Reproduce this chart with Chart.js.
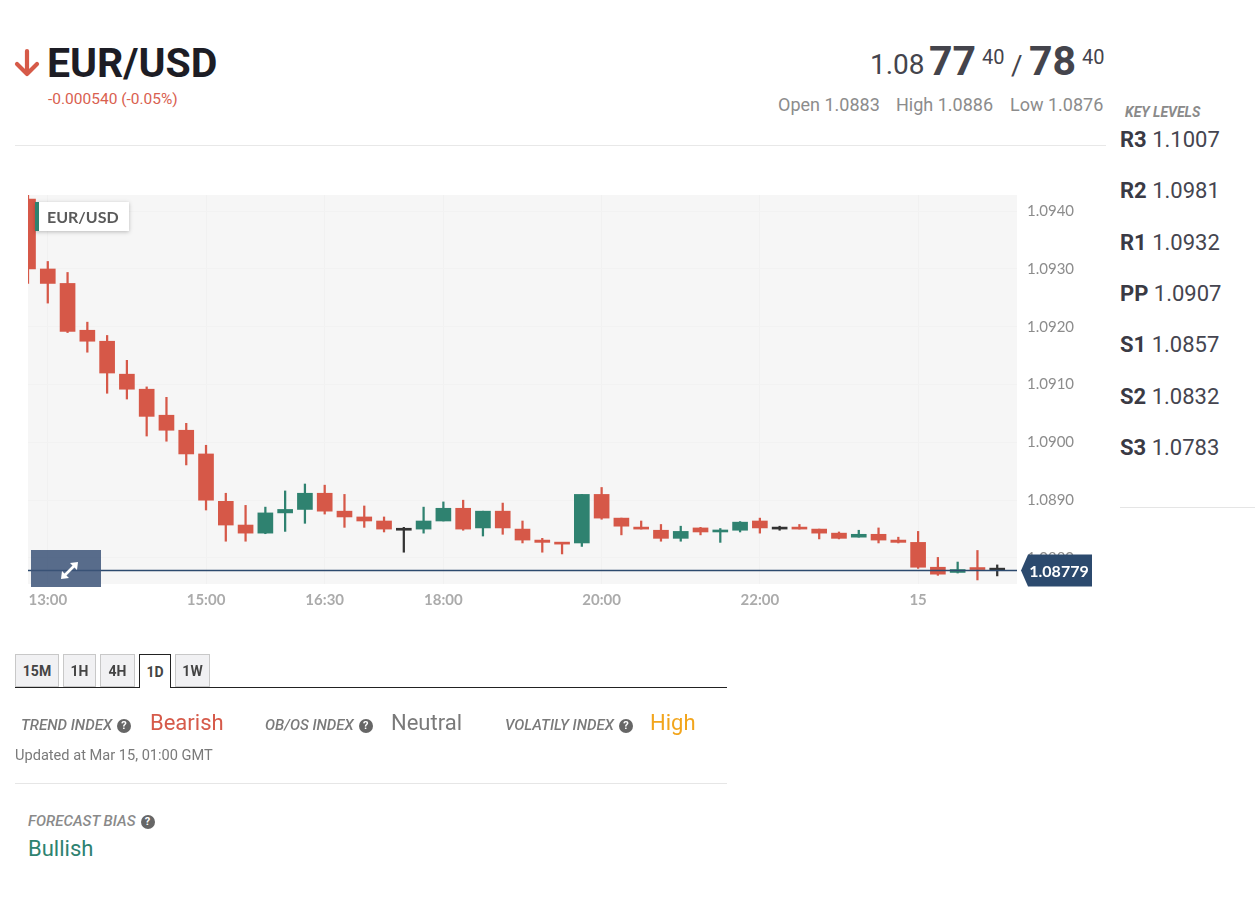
<!DOCTYPE html>
<html lang="en">
<head>
<meta charset="utf-8">
<title>EUR/USD</title>
<script src="https://cdn.jsdelivr.net/npm/chart.js@4.4.1/dist/chart.umd.min.js"></script>
<style>
  body { margin: 0; width: 1255px; height: 897px; background: #fff; font-family: Roboto, "Noto Sans", sans-serif; position: relative; overflow: hidden; }
  .abs { position: absolute; line-height: 1; white-space: nowrap; }
  .etiqueta { font-style: italic; font-weight: 500; font-size: 15px; color: #7a7a7a; }
  .q { display: inline-block; width: 14px; height: 14px; border-radius: 50%; background: #666; color: #fff; font-size: 11px; font-weight: 700; font-style: normal; text-align: center; line-height: 14px; vertical-align: 1px; margin-left: 5px; }
  .nivel { font-size: 22px; color: #45454f; }
  .nivel b { color: #3a3a44; }
  .tab { position: absolute; top: 654px; height: 33px; box-sizing: border-box; border: 1px solid #c8c8c8; background: #f1f1f3; font-weight: 700; font-size: 14px; color: #444; display: flex; align-items: center; justify-content: center; }
  .tab.activa { height: 34px; border: 1px solid #222; border-bottom: none; background: #fff; z-index: 2; }
</style>
</head>
<body>

<!-- cabecera -->
<svg class="abs" style="left:14px;top:48px" width="28" height="30" viewBox="0 0 28 30">
  <path d="M13 3 L13 26 M3 16 L13 26 L23 16" stroke="#d65a48" stroke-width="4.2" fill="none" stroke-linecap="round" stroke-linejoin="round"/>
</svg>
<div class="abs" style="left:47px;top:43px;font-size:41px;font-weight:700;color:#1d1d25">EUR/USD</div>
<div class="abs" style="left:48px;top:92px;font-size:15.5px;color:#d9604f">-0.000540 (-0.05%)</div>

<div class="abs" style="left:870px;top:51px;font-size:28px;color:#44444c">1.08</div>
<div class="abs" style="left:929px;top:41px;font-size:41px;font-weight:700;color:#44444c">77</div>
<div class="abs" style="left:982px;top:47px;font-size:20px;color:#44444c">40</div>
<div class="abs" style="left:1011px;top:52px;font-size:28px;color:#44444c">/</div>
<div class="abs" style="left:1029px;top:41px;font-size:41px;font-weight:700;color:#44444c">78</div>
<div class="abs" style="left:1082px;top:47px;font-size:20px;color:#44444c">40</div>

<div class="abs" style="left:778px;top:96px;font-size:18px;color:#8c8c8c">Open 1.0883</div>
<div class="abs" style="left:896px;top:96px;font-size:18px;color:#8c8c8c">High 1.0886</div>
<div class="abs" style="left:1010px;top:96px;font-size:18px;color:#8c8c8c">Low 1.0876</div>

<div class="abs" style="left:15px;top:145px;width:1091px;height:1px;background:#e8e8e8"></div>

<!-- niveles clave -->
<div class="abs" style="left:1125px;top:105px;font-size:14px;font-weight:700;font-style:italic;color:#8a8a8a">KEY LEVELS</div>
<div class="abs nivel" style="left:1120px;top:129px"><b>R3</b> 1.1007</div>
<div class="abs nivel" style="left:1120px;top:180px"><b>R2</b> 1.0981</div>
<div class="abs nivel" style="left:1120px;top:232px"><b>R1</b> 1.0932</div>
<div class="abs nivel" style="left:1120px;top:283px"><b>PP</b> 1.0907</div>
<div class="abs nivel" style="left:1120px;top:334px"><b>S1</b> 1.0857</div>
<div class="abs nivel" style="left:1120px;top:386px"><b>S2</b> 1.0832</div>
<div class="abs nivel" style="left:1120px;top:437px"><b>S3</b> 1.0783</div>
<div class="abs" style="left:1120px;top:507px;width:135px;height:1px;background:#e5e5e5"></div>

<!-- grafico -->
<div style="position:absolute;left:0;top:185px;width:1110px;height:430px">
  <canvas id="graficoVelas" width="1110" height="430"></canvas>
</div>
<div class="abs" style="left:35px;top:202px;width:94px;height:29px;background:#fff;box-shadow:0 1px 4px rgba(0,0,0,0.25);border-left:4px solid #2e8270;box-sizing:border-box;font-family:Lato, sans-serif;font-weight:700;font-size:16px;color:#5a5a5a;display:flex;align-items:center;padding-left:8px">EUR/USD</div>
<div class="abs" style="left:31px;top:550px;width:70px;height:37px;background:rgba(60,84,120,0.85)">
  <svg width="70" height="37" viewBox="0 0 70 37">
    <path d="M34 25 L43 16" stroke="#fff" stroke-width="2.6" fill="none"/>
    <path d="M47 12 L39 13 L46 20 Z M30 29 L31 21 L38 28 Z" fill="#fff"/>
  </svg>
</div>

<!-- pestañas -->
<div class="tab" style="left:15px;width:44px">15M</div>
<div class="tab" style="left:63px;width:33px">1H</div>
<div class="tab" style="left:100px;width:35px">4H</div>
<div class="tab activa" style="left:139px;width:32px">1D</div>
<div class="tab" style="left:175px;width:35px">1W</div>
<div class="abs" style="left:15px;top:687px;width:712px;height:1px;background:#222"></div>

<!-- indices -->
<div class="abs etiqueta" style="left:21px;top:718px">TREND INDEX<span class="q">?</span></div>
<div class="abs" style="left:150px;top:712px;font-size:22px;color:#d65a4a">Bearish</div>
<div class="abs etiqueta" style="left:265px;top:718px">OB/OS INDEX<span class="q">?</span></div>
<div class="abs" style="left:391px;top:712px;font-size:22px;color:#7a7a7a">Neutral</div>
<div class="abs etiqueta" style="left:505px;top:718px">VOLATILY INDEX<span class="q">?</span></div>
<div class="abs" style="left:650px;top:712px;font-size:22px;color:#f2a51c">High</div>
<div class="abs" style="left:15px;top:748px;font-size:14.6px;color:#7a7a7a">Updated at Mar 15, 01:00 GMT</div>
<div class="abs" style="left:15px;top:783px;width:712px;height:1px;background:#e6e6e6"></div>
<div class="abs etiqueta" style="left:28px;top:814px;color:#8a8a8a">FORECAST BIAS<span class="q">?</span></div>
<div class="abs" style="left:28px;top:838px;font-size:22px;color:#2e8270">Bullish</div>

<script>
// velas de 15 minutos, la ultima casilla queda vacia
const horas = [
  "12:45", "13:00", "13:15", "13:30", "13:45", "14:00", "14:15", "14:30", "14:45",
  "15:00", "15:15", "15:30", "15:45", "16:00", "16:15", "16:30", "16:45",
  "17:00", "17:15", "17:30", "17:45", "18:00", "18:15", "18:30", "18:45",
  "19:00", "19:15", "19:30", "19:45", "20:00", "20:15", "20:30", "20:45",
  "21:00", "21:15", "21:30", "21:45", "22:00", "22:15", "22:30", "22:45",
  "23:00", "23:15", "23:30", "23:45", "00:00", "00:15", "00:30", "00:45",
  "01:00", "01:15"
];
const etiquetasEjeX = ["13:00", "15:00", "16:30", "18:00", "20:00", "22:00", "00:00"];
const etiquetasEjeY = [1.0880, 1.0890, 1.0900, 1.0910, 1.0920, 1.0930, 1.0940];

const aperturas = [
  1.09421, 1.09300, 1.09275, 1.09194, 1.09175, 1.09118, 1.09092, 1.09047, 1.09021, 1.08980,
  1.08898, 1.08857, 1.08843, 1.08878, 1.08884, 1.08912, 1.08881, 1.08871, 1.08864, 1.08848,
  1.08850, 1.08864, 1.08886, 1.08852, 1.08881, 1.08850, 1.08831, 1.08827, 1.08826, 1.08910,
  1.08869, 1.08853, 1.08848, 1.08834, 1.08852, 1.08845, 1.08848, 1.08864, 1.08850, 1.08852,
  1.08850, 1.08843, 1.08836, 1.08841, 1.08831, 1.08827, 1.08784, 1.08775, 1.08782, 1.08779
];
const maximos = [
  1.09430, 1.09313, 1.09294, 1.09208, 1.09185, 1.09142, 1.09096, 1.09078, 1.09033, 1.08995,
  1.08912, 1.08891, 1.08888, 1.08916, 1.08928, 1.08926, 1.08910, 1.08890, 1.08871, 1.08853,
  1.08888, 1.08897, 1.08900, 1.08881, 1.08895, 1.08864, 1.08834, 1.08827, 1.08910, 1.08922,
  1.08869, 1.08864, 1.08858, 1.08855, 1.08853, 1.08851, 1.08863, 1.08869, 1.08855, 1.08858,
  1.08850, 1.08845, 1.08848, 1.08852, 1.08836, 1.08846, 1.08801, 1.08793, 1.08813, 1.08788
];
const minimos = [
  1.09275, 1.09241, 1.09190, 1.09156, 1.09085, 1.09075, 1.09011, 1.09002, 1.08961, 1.08883,
  1.08829, 1.08829, 1.08842, 1.08846, 1.08860, 1.08876, 1.08853, 1.08853, 1.08845, 1.08810,
  1.08843, 1.08864, 1.08848, 1.08838, 1.08841, 1.08826, 1.08810, 1.08807, 1.08820, 1.08867,
  1.08840, 1.08850, 1.08829, 1.08829, 1.08840, 1.08827, 1.08845, 1.08843, 1.08848, 1.08850,
  1.08833, 1.08833, 1.08836, 1.08826, 1.08826, 1.08782, 1.08770, 1.08774, 1.08762, 1.08769
];
const cierres = [
  1.09300, 1.09275, 1.09192, 1.09175, 1.09120, 1.09092, 1.09045, 1.09021, 1.08980, 1.08900,
  1.08857, 1.08843, 1.08878, 1.08884, 1.08912, 1.08881, 1.08871, 1.08864, 1.08850, 1.08848,
  1.08864, 1.08886, 1.08850, 1.08881, 1.08852, 1.08831, 1.08827, 1.08824, 1.08910, 1.08869,
  1.08855, 1.08850, 1.08834, 1.08846, 1.08845, 1.08848, 1.08862, 1.08852, 1.08850, 1.08850,
  1.08843, 1.08834, 1.08841, 1.08831, 1.08827, 1.08784, 1.08772, 1.08780, 1.08780, 1.08779
];

const ROJO = "#d65848";
const VERDE = "#2f8270";
const NEGRO = "#333333";
const AZUL = "#2c4a6e";

function colorVela(i) {
  if (cierres[i] > aperturas[i]) return VERDE;
  if (cierres[i] < aperturas[i]) return ROJO;
  return NEGRO;
}

// fondo gris, linea del precio actual y su etiqueta
const pluginPrecio = {
  id: "precioActual",
  beforeDraw(chart) {
    const { ctx, chartArea } = chart;
    ctx.save();
    ctx.fillStyle = "#f6f6f6";
    ctx.fillRect(chartArea.left, chartArea.top, chartArea.right - chartArea.left, chartArea.bottom - chartArea.top);
    ctx.restore();
  },
  afterDraw(chart) {
    const { ctx, chartArea } = chart;
    const ultimo = cierres[cierres.length - 1];
    const y = Math.round(chart.scales.y.getPixelForValue(ultimo)) + 0.5;
    const x = chartArea.right;
    ctx.save();
    ctx.strokeStyle = AZUL;
    ctx.lineWidth = 1.5;
    ctx.beginPath();
    ctx.moveTo(chartArea.left, y);
    ctx.lineTo(x, y);
    ctx.stroke();

    ctx.fillStyle = AZUL;
    ctx.beginPath();
    ctx.moveTo(x + 4, y);
    ctx.lineTo(x + 11, y - 16);
    ctx.lineTo(x + 75, y - 16);
    ctx.lineTo(x + 75, y + 16);
    ctx.lineTo(x + 11, y + 16);
    ctx.closePath();
    ctx.fill();

    ctx.fillStyle = "#ffffff";
    ctx.font = "bold 16px Lato";
    ctx.textAlign = "center";
    ctx.textBaseline = "middle";
    ctx.fillText(ultimo.toFixed(5), x + 42, y + 1);
    ctx.restore();
  }
};

function crearGrafico() {
  const ctx = document.getElementById("graficoVelas").getContext("2d");

  new Chart(ctx, {
    type: "bar",
    data: {
      labels: horas,
      datasets: [
        {
          label: "cuerpo",
          data: aperturas.map((a, i) => [a, cierres[i]]),
          backgroundColor: (c) => colorVela(c.dataIndex),
          barThickness: 15,
          minBarLength: 2,
          grouped: false,
          clip: 0,
          order: 0,
        },
        {
          label: "mecha",
          data: minimos.map((m, i) => [m, maximos[i]]),
          backgroundColor: (c) => colorVela(c.dataIndex),
          barThickness: 1.6,
          grouped: false,
          clip: 0,
          order: 1,
        },
      ],
    },
    options: {
      responsive: false,
      animation: false,
      layout: { padding: { left: 28, top: 10, right: 0, bottom: 0 } },
      plugins: {
        legend: { display: false },
        tooltip: { enabled: false },
      },
      scales: {
        x: {
          type: "category",
          offset: false,
          border: { display: false },
          grid: { offset: false, color: "#f1f1f1", drawTicks: false },
          ticks: {
            autoSkip: false,
            maxRotation: 0,
            padding: 7,
            font: { family: "Lato", size: 15, weight: "bold" },
            color: (c) => (horas[c.index] === "00:00" ? "#4a4a4a" : "#ababab"),
            callback: (valor, indice) => {
              const h = horas[indice];
              if (!etiquetasEjeX.includes(h)) return null;
              return h === "00:00" ? "15" : h;
            },
          },
          afterFit: (escala) => { escala.height = 31; },
        },
        y: {
          position: "right",
          min: 1.08755,
          max: 1.09428,
          border: { display: false },
          grid: { color: "#f2f2f2", drawTicks: false },
          ticks: {
            padding: 10,
            font: { family: "Lato", size: 15 },
            color: "#8c8c8c",
            callback: (valor) => valor.toFixed(4),
          },
          afterBuildTicks: (escala) => {
            escala.ticks = etiquetasEjeY.map((v) => ({ value: v }));
          },
          afterFit: (escala) => {
            escala.width = 93;
            escala.paddingTop = 0;
            escala.paddingBottom = 0;
          },
        },
      },
    },
    plugins: [pluginPrecio],
  });
}

document.addEventListener("DOMContentLoaded", crearGrafico);
</script>
</body>
</html>
